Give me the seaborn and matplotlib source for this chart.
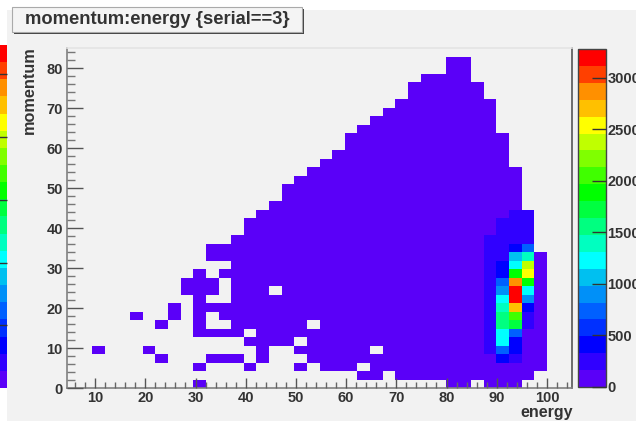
import numpy as np
import pandas as pd
import matplotlib
matplotlib.use("Agg")
import matplotlib.pyplot as plt
from matplotlib.colors import ListedColormap
from matplotlib.patches import Rectangle
from matplotlib.ticker import MultipleLocator
import seaborn as sns

sns.set_style("white", {"xtick.bottom": True, "ytick.left": True, "axes.axisbelow": False})
plt.rcParams['font.family'] = ['Liberation Sans', 'DejaVu Sans']

# filled energy bins in every momentum bin, row 0 is the lowest
rows_filled = [
    [(10, 10), (30, 31), (33, 35)],
    [(23, 24), (26, 36)],
    [(10, 10), (14, 14), (18, 18), (20, 22), (24, 37)],
    [(7, 7), (11, 13), (15, 15), (19, 37)],
    [(2, 2), (6, 6), (15, 15), (18, 23), (25, 37)],
    [(14, 17), (19, 37)],
    [(10, 13), (15, 37)],
    [(7, 7), (10, 10), (13, 18), (20, 37)],
    [(5, 5), (8, 8), (10, 10), (12, 37)],
    [(8, 8), (10, 37)],
    [(10, 10), (13, 37)],
    [(9, 11), (13, 15), (17, 37)],
    [(9, 11), (13, 37)],
    [(10, 10), (12, 37)],
    [(13, 37)],
    [(11, 37)],
    [(11, 36)],
    [(13, 36)],
    [(14, 36)],
    [(14, 36)],
    [(15, 36)],
    [(16, 35)],
    [(17, 35)],
    [(17, 35)],
    [(18, 35)],
    [(19, 35)],
    [(20, 34)],
    [(21, 34)],
    [(22, 34)],
    [(22, 34)],
    [(23, 33)],
    [(24, 33)],
    [(25, 33)],
    [(26, 33)],
    [(27, 32)],
    [(27, 32)],
    [(28, 31)],
    [(30, 31)],
    [(30, 31)],
]
base_count = 60

# the hot spot: first momentum bin, then counts going up
col_33 = (4, [200, 250, 250, 250, 250, 250, 250, 250, 250, 250, 250, 250, 250, 200])
col_34 = (3, [350, 800, 1150, 1300, 1500, 1600, 1350, 1150, 900, 800, 420, 350, 250, 250, 250, 250, 200])
col_35 = (3, [200, 350, 400, 800, 1750, 2100, 2700, 3250, 3250, 2850, 1950, 1250, 1000, 450, 300, 300, 250, 200])
col_36 = (7, [250, 250, 420, 850, 1250, 1900, 2550, 2400, 1400, 800, 300, 250, 200, 200])
hot_cols = {33: col_33, 34: col_34, 35: col_35, 36: col_36}

palette = ['#5a00f8', '#3000ff', '#0000ff', '#0030ff', '#0060ff', '#0090f8', '#00c0f0', '#00ffff',
           '#00ffc0', '#00ff80', '#00ff40', '#00ff00', '#40ff00', '#80ff00', '#c0ff00', '#ffff00',
           '#ffc000', '#ff9000', '#ff4000', '#ff0000']
max_count = 3281
cbar_ticks = [0, 500, 1000, 1500, 2000, 2500, 3000]
left_ticks = [600, 1200, 1800, 2400, 3000]

counts = np.full((40, 40), np.nan)
for m, ranges in enumerate(rows_filled):
    for a, b in ranges:
        counts[m, a:b + 1] = base_count
for n, (first, vals) in hot_cols.items():
    for i, v in enumerate(vals):
        counts[first + i, n] = v
table = pd.DataFrame(counts)

W, H = 642.0, 421.0


def box(x0, y0, x1, y1):
    return [x0 / W, 1 - y1 / H, (x1 - x0) / W, (y1 - y0) / H]


fig = plt.figure(figsize=(6.42, 4.21), dpi=100, facecolor="white")
fig.patches.append(Rectangle((7 / W, 0), 629 / W, 1 - 10 / H, transform=fig.transFigure,
                             facecolor="#f2f2f2", edgecolor="none", zorder=-5))

ax = fig.add_axes(box(67, 48, 572, 388))
cax = fig.add_axes(box(578, 49, 606, 387))
cmap = ListedColormap(palette)
sns.heatmap(table, ax=ax, cmap=cmap, vmin=0, vmax=max_count, cbar_ax=cax,
            cbar_kws={"ticks": cbar_ticks}, xticklabels=False, yticklabels=False)
ax.set_ylim(0, 40)
ax.set_xlim(0, 40)
ax.patch.set_alpha(0)
ax.set_xlabel("")
ax.set_ylabel("")
ax.tick_params(left=False, bottom=False)

# real axis on top of the cells
top = fig.add_axes(box(67, 48, 572, 388), facecolor="none")
top.set_xlim(4.4, 105)
top.set_ylim(0, 85)
top.xaxis.set_major_locator(MultipleLocator(10))
top.xaxis.set_minor_locator(MultipleLocator(2))
top.yaxis.set_major_locator(MultipleLocator(10))
top.yaxis.set_minor_locator(MultipleLocator(2))
top.tick_params(axis="x", which="major", direction="in", length=7.5, width=1, color="#555555",
                labelsize=10.5, labelcolor="#333333", pad=2)
top.tick_params(axis="x", which="minor", direction="in", length=4, width=1, color="#666666")
top.tick_params(axis="y", which="major", direction="in", length=11.5, width=1, color="#555555",
                labelsize=10.5, labelcolor="#333333", pad=3)
top.tick_params(axis="y", which="minor", direction="in", length=6, width=1, color="#777777")
for lab in top.get_xticklabels() + top.get_yticklabels():
    lab.set_fontweight("bold")
for side, col, lw in [("left", "#808080", 1.2), ("bottom", "#808080", 1.2),
                      ("top", "#e4e4e4", 1.2), ("right", "#555555", 1.2)]:
    top.spines[side].set_visible(True)
    top.spines[side].set_color(col)
    top.spines[side].set_linewidth(lw)

fig.text(29 / W, 1 - 46 / H, "momentum", rotation=90, ha="center", va="top",
         fontsize=11.7, fontweight="bold", color="#333333")
fig.text(573 / W, 1 - 417 / H, "energy", ha="right", va="baseline",
         fontsize=11.5, fontweight="bold", color="#333333")

# right colour scale
cbar = ax.collections[0].colorbar
cbar.ax.tick_params(which="major", right=True, direction="in", length=10, width=1, color="#333333",
                    labelsize=10.5, labelcolor="#333333", pad=1)
for lab in cbar.ax.get_yticklabels():
    lab.set_fontweight("bold")
cbar.outline.set_linewidth(1)
cbar.outline.set_edgecolor("#444444")

# scale of the neighbouring pad, cut by the left edge
lcax = fig.add_axes(box(-22, 45, 7, 388))
lbar = fig.colorbar(ax.collections[0], cax=lcax, ticks=left_ticks)
lbar.ax.tick_params(right=True, direction="in", length=9, width=1, color="#333333", labelright=False)
lbar.outline.set_linewidth(0)

# title box
fig.patches.append(Rectangle((14 / W, 1 - 34 / H), 290 / W, 25 / H, transform=fig.transFigure,
                             facecolor="#444444", edgecolor="none", zorder=3))
fig.patches.append(Rectangle((12 / W, 1 - 32 / H), 290 / W, 25 / H, transform=fig.transFigure,
                             facecolor="#f4f4f4", edgecolor="#aaaaaa", linewidth=0.8, zorder=4))
fig.text(157 / W, 1 - 20 / H, "momentum:energy {serial==3}", ha="center", va="center",
         fontsize=13.2, fontweight="bold", color="#333333", zorder=5)

# the shot stops at x=636, so the right labels are cut there
fig.add_artist(Rectangle((636 / W, 0), 6 / W, 1, transform=fig.transFigure,
                         facecolor="white", edgecolor="none", zorder=20))

fig.savefig("out.png", dpi=100)
